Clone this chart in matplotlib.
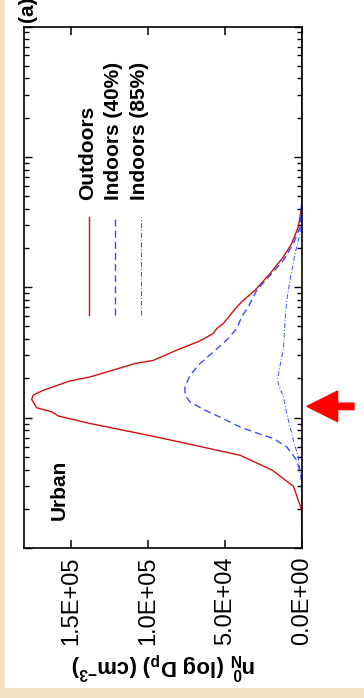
import matplotlib
matplotlib.use("Agg")
import matplotlib.pyplot as plt
from matplotlib.patches import Rectangle

plt.rcParams['font.family'] = ['Liberation Sans', 'DejaVu Sans']
plt.rcParams['mathtext.fontset'] = 'custom'
plt.rcParams['mathtext.rm'] = 'Liberation Sans'
plt.rcParams['mathtext.bf'] = 'Liberation Sans:bold'
plt.rcParams['mathtext.it'] = 'Liberation Sans:italic'

# Particle diameter (nm) and number distribution (cm^-3)
dp_out = [1, 1.97, 2.98, 3.95, 5.15, 7.19, 9.02, 10.3, 11.1, 11.9, 13.8, 14.9, 16.2,
          19.1, 20.5, 26.0, 27.5, 32.9, 38.8, 44.2, 48.2, 52.6, 70.6, 79.4, 94.8,
          127, 171, 216, 290, 413, 891, 10000]
n_out = [0, 300, 5600, 19300, 40300, 96500, 137700, 158300, 162600, 172300, 175500,
         174500, 168000, 150700, 137700, 108400, 96500, 81400, 66200, 57600, 55400,
         51100, 42400, 38100, 30500, 20800, 12100, 6700, 2400, 200, 0, 0]

dp_in40 = [1, 2.51, 3.51, 4.71, 5.96, 6.92, 7.55, 8.49, 10.1, 11.4, 13.2, 14.9, 17.2,
           21.1, 26.0, 31.9, 40.5, 48.2, 59.2, 70.6, 94.8, 127, 161, 216, 288, 490, 10000]
n_in40 = [0, 0, 300, 3400, 9900, 18600, 28400, 40300, 53300, 63000, 72700, 76000, 76000,
          72700, 66200, 57600, 47800, 42400, 39200, 34900, 29400, 19700, 12100, 5600,
          1300, 0, 0]

dp_in85 = [1, 3.16, 5.00, 6.71, 10.7, 14.4, 18.3, 20.0, 29.2, 32.9, 55.8, 79.4, 113,
           181, 257, 501, 10000]
n_in85 = [0, 300, 2400, 5600, 9900, 12100, 15400, 15800, 13200, 12100, 11000, 9900,
          7800, 4500, 1300, 0, 0]

conc_ticks = [0, 5e4, 1e5, 1.5e5]
labels = ["Outdoors", "Indoors (40%)", "Indoors (85%)"]
red = "#CC1111"
blue = "#3B4BFF"

fig = plt.figure(figsize=(3.64, 6.98), dpi=100, facecolor="#F4E3C3")
fig.add_artist(Rectangle((5 / 364, 10 / 698), 1, 1, transform=fig.transFigure,
                         facecolor="white", edgecolor="none", zorder=-5))
ax = fig.add_axes([24 / 364, 150 / 698, 278 / 364, 521.5 / 698])

# chart drawn turned on its side: concentration runs right-to-left, Dp upward
ax.plot(n_out, dp_out, color=red, lw=1.0)
ax.plot(n_in40, dp_in40, color=blue, lw=1.0, dashes=(5, 3))
ax.plot(n_in85, dp_in85, color=blue, lw=0.7, dashes=(5, 2, 1, 2))

ax.set_yscale("log")
ax.set_ylim(1, 10000)
ax.set_xlim(1.805e5, 0)
ax.set_xticks(conc_ticks)
ax.set_xticklabels(["{:.1E}".format(v) for v in conc_ticks])
ax.tick_params(axis="x", which="major", direction="in", top=True, bottom=True,
               length=6, width=1.1, labelsize=17, labelrotation=90, pad=6)
ax.tick_params(axis="y", which="both", direction="in", left=True, right=True,
               labelleft=False, width=1.0)
ax.tick_params(axis="y", which="major", length=6)
ax.tick_params(axis="y", which="minor", length=3.5)
for s in ax.spines.values():
    s.set_linewidth(1.2)

ax.set_xlabel(r"$\mathbf{n^0_N}$ (log D$_\mathbf{p}$) (cm$^\mathbf{-3}$)",
              fontsize=16, fontweight="bold", rotation=180, labelpad=4)

# legend, turned like the rest
leg_x = [0.234, 0.327, 0.421]
styles = [dict(color=red, lw=1.0), dict(color=blue, lw=1.0, dashes=(5, 3)),
          dict(color=blue, lw=0.7, dashes=(5, 2, 1, 2))]
for x, lab, st in zip(leg_x, labels, styles):
    ax.plot([x, x], [0.447, 0.635], transform=ax.transAxes, **st)
    ax.text(x - 0.004, 0.668, lab, transform=ax.transAxes, rotation=90,
            ha="center", va="bottom", fontsize=15, fontweight="bold")

ax.text(0.126, 0.111, "Urban", transform=ax.transAxes, rotation=90,
        ha="center", va="center", fontsize=15, fontweight="bold")
fig.text(28 / 364, 676 / 698, "(a)", rotation=90, ha="center", va="bottom",
         fontsize=15, fontweight="bold")

# red arrow pointing at the outdoor peak
ax.annotate("", xy=(1.018, 12.2), xycoords=("axes fraction", "data"),
            xytext=(1.187, 12.2), textcoords=("axes fraction", "data"),
            annotation_clip=False,
            arrowprops=dict(arrowstyle="simple,head_length=1.1,head_width=1.1,tail_width=0.23",
                            color="#FF0000", shrinkA=0, shrinkB=0, mutation_scale=20))

fig.savefig("out.png", dpi=100, facecolor=fig.get_facecolor())
